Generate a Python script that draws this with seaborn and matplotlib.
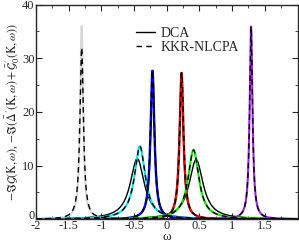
import numpy as np
import pandas as pd
import seaborn as sns
import matplotlib
matplotlib.use('Agg')
import matplotlib.pyplot as plt
import matplotlib.transforms as mtransforms
from matplotlib.ticker import MultipleLocator

# picos (posicao, altura, meia-largura)
dca_centros = [-0.45, -0.21, 0.22, 0.45]
dca_alturas = [11.3, 27.7, 27.3, 11.1]
dca_larguras = [0.13, 0.036, 0.036, 0.13]

kkr_centros = [-1.30, -0.41, -0.22, 0.23, 0.41, 1.29]
kkr_alturas = [32.0, 13.6, 27.7, 27.3, 12.9, 35.9]
kkr_larguras = [0.032, 0.10, 0.036, 0.036, 0.10, 0.026]

# curvas coloridas por baixo das tracejadas
cor_centros = [-1.30, -0.41, -0.22, 0.23, 0.41, 1.29]
cor_alturas = [36.0, 13.6, 27.7, 27.3, 12.9, 35.9]
cor_larguras = [0.027, 0.10, 0.036, 0.036, 0.10, 0.026]
cores = ['#d8d8d8', '#00e5ee', '#0000ff', '#ff0000', '#00ee00', '#a020f0']

omega = np.linspace(-2, 2, 2001)

def lorentz(c, h, g):
    return h * g**2 / ((omega - c)**2 + g**2)

sns.set_style("ticks")
plt.rcParams['font.family'] = ['Liberation Serif', 'DejaVu Serif']
plt.rcParams['mathtext.fontset'] = 'stix'
plt.rcParams['axes.unicode_minus'] = False

fig = plt.figure(figsize=(2.99, 2.43), dpi=100)
ax = fig.add_axes([0.120, 0.098, 0.875, 0.883])

# DCA (linha cheia) por baixo
for i, (c, h, g) in enumerate(zip(dca_centros, dca_alturas, dca_larguras)):
    df = pd.DataFrame({'w': omega, 'a': lorentz(c, h, g)})
    sns.lineplot(data=df, x='w', y='a', color='black', lw=1.0, ax=ax,
                 label='DCA' if i == 0 else None)

for c, h, g, cor in zip(cor_centros, cor_alturas, cor_larguras, cores):
    df = pd.DataFrame({'w': omega, 'a': lorentz(c, h, g)})
    sns.lineplot(data=df, x='w', y='a', color=cor, lw=1.5, ax=ax)

for i, (c, h, g) in enumerate(zip(kkr_centros, kkr_alturas, kkr_larguras)):
    df = pd.DataFrame({'w': omega, 'a': lorentz(c, h, g)})
    sns.lineplot(data=df, x='w', y='a', color='black', lw=1.0, ax=ax,
                 linestyle=(0, (4, 3)), label='KKR-NLCPA' if i == 0 else None)

ax.set_xlim(-2, 2)
ax.set_ylim(0, 40)
ax.xaxis.set_minor_locator(MultipleLocator(0.25))
ax.set_yticks([0, 10, 20, 30, 40])
ax.yaxis.set_minor_locator(MultipleLocator(5))
ax.set_xticks([-2, -1.5, -1, -0.5, 0, 0.5, 1, 1.5])
ax.set_xticklabels(['-2', '-1.5', '-1', '-0.5', '0', '0.5', '1', '1.5'])
ax.tick_params(which='both', direction='in', top=True, right=True, labelsize=9, pad=1)
ax.tick_params(axis='x', pad=0.5)
ax.tick_params(which='major', length=4)
ax.tick_params(which='minor', length=2)
for s in ax.spines.values():
    s.set_linewidth(1.0)

# sobe um pouco o "0" do eixo y para nao encostar no "-2"
rot0 = ax.yaxis.get_major_ticks()[0].label1
rot0.set_transform(rot0.get_transform() + mtransforms.ScaledTranslation(0, 5 / 100, fig.dpi_scale_trans))

ax.set_xlabel('ω', fontsize=9.5, va='bottom')
ax.xaxis.set_label_coords(0.5, -0.113)
ax.set_ylabel(r"$-\Im\mathcal{G}(\mathrm{K},\omega)$, $-\Im(\bar{\Delta}'(\mathrm{K},\omega)+\bar{\mathcal{G}}_0'(\mathrm{K},\omega))$",
              fontsize=8.5, labelpad=0)

ax.legend(loc='upper left', bbox_to_anchor=(0.36, 0.92), frameon=False, fontsize=10,
          handlelength=1.4, handletextpad=0.4, labelspacing=0.05, borderaxespad=0)

fig.savefig('out.png', dpi=100)
